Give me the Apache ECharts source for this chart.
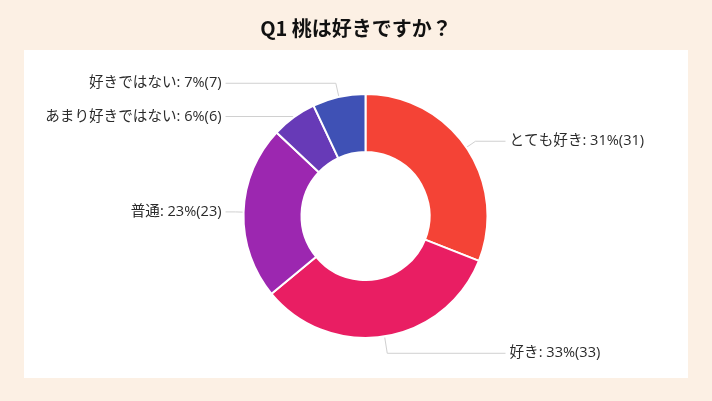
<!DOCTYPE html>
<html><head><meta charset="utf-8">
<script src="https://cdn.jsdelivr.net/npm/echarts@6/dist/echarts.min.js"></script>
<style>html,body{margin:0;padding:0;background:#fcf0e4;}#c{width:712px;height:401px;}</style>
</head><body><div id="c"></div>
<script>
const titleText = 'Q1 桃は好きですか？';
const categories = ['とても好き', '好き', '普通', 'あまり好きではない', '好きではない'];
const values = [31, 33, 23, 6, 7];
const colors = ['#f44336', '#e91e63', '#9c27b0', '#673ab7', '#3f51b5'];
const lineLen1 = [11, 17, 8, 1, 14];
const lineLen2 = [30, 30, 10, 10, 10];

const chart = echarts.init(document.getElementById('c'));
chart.setOption({
  backgroundColor: '#fcf0e4',
  animation: false,
  title: {
    text: titleText, left: 'center', top: 13,
    textStyle: { fontFamily: 'Noto Sans CJK JP', fontSize: 20, fontWeight: 'bold', color: '#111' }
  },
  graphic: [{
    type: 'rect', left: 24, top: 50, z: -1,
    shape: { width: 664, height: 328 },
    style: { fill: '#ffffff' }
  }],
  series: [{
    type: 'pie',
    center: [365.5, 216],
    radius: [64, 122],
    startAngle: 90,
    itemStyle: { borderColor: '#fff', borderWidth: 2 },
    label: {
      formatter: '{b}: {d}%({c})',
      fontFamily: 'Open Sans, Noto Sans CJK JP', fontSize: 14.6, color: '#2b2b2b',
      alignTo: 'labelLine', distanceToLabelLine: 4
    },
    labelLine: { length: 8, length2: 10, lineStyle: { color: '#d0d0d0', width: 1 } },
    data: categories.map((n, i) => ({
      name: n, value: values[i],
      itemStyle: { color: colors[i] },
      labelLine: { length: lineLen1[i], length2: lineLen2[i] }
    }))
  }]
});
</script></body></html>
